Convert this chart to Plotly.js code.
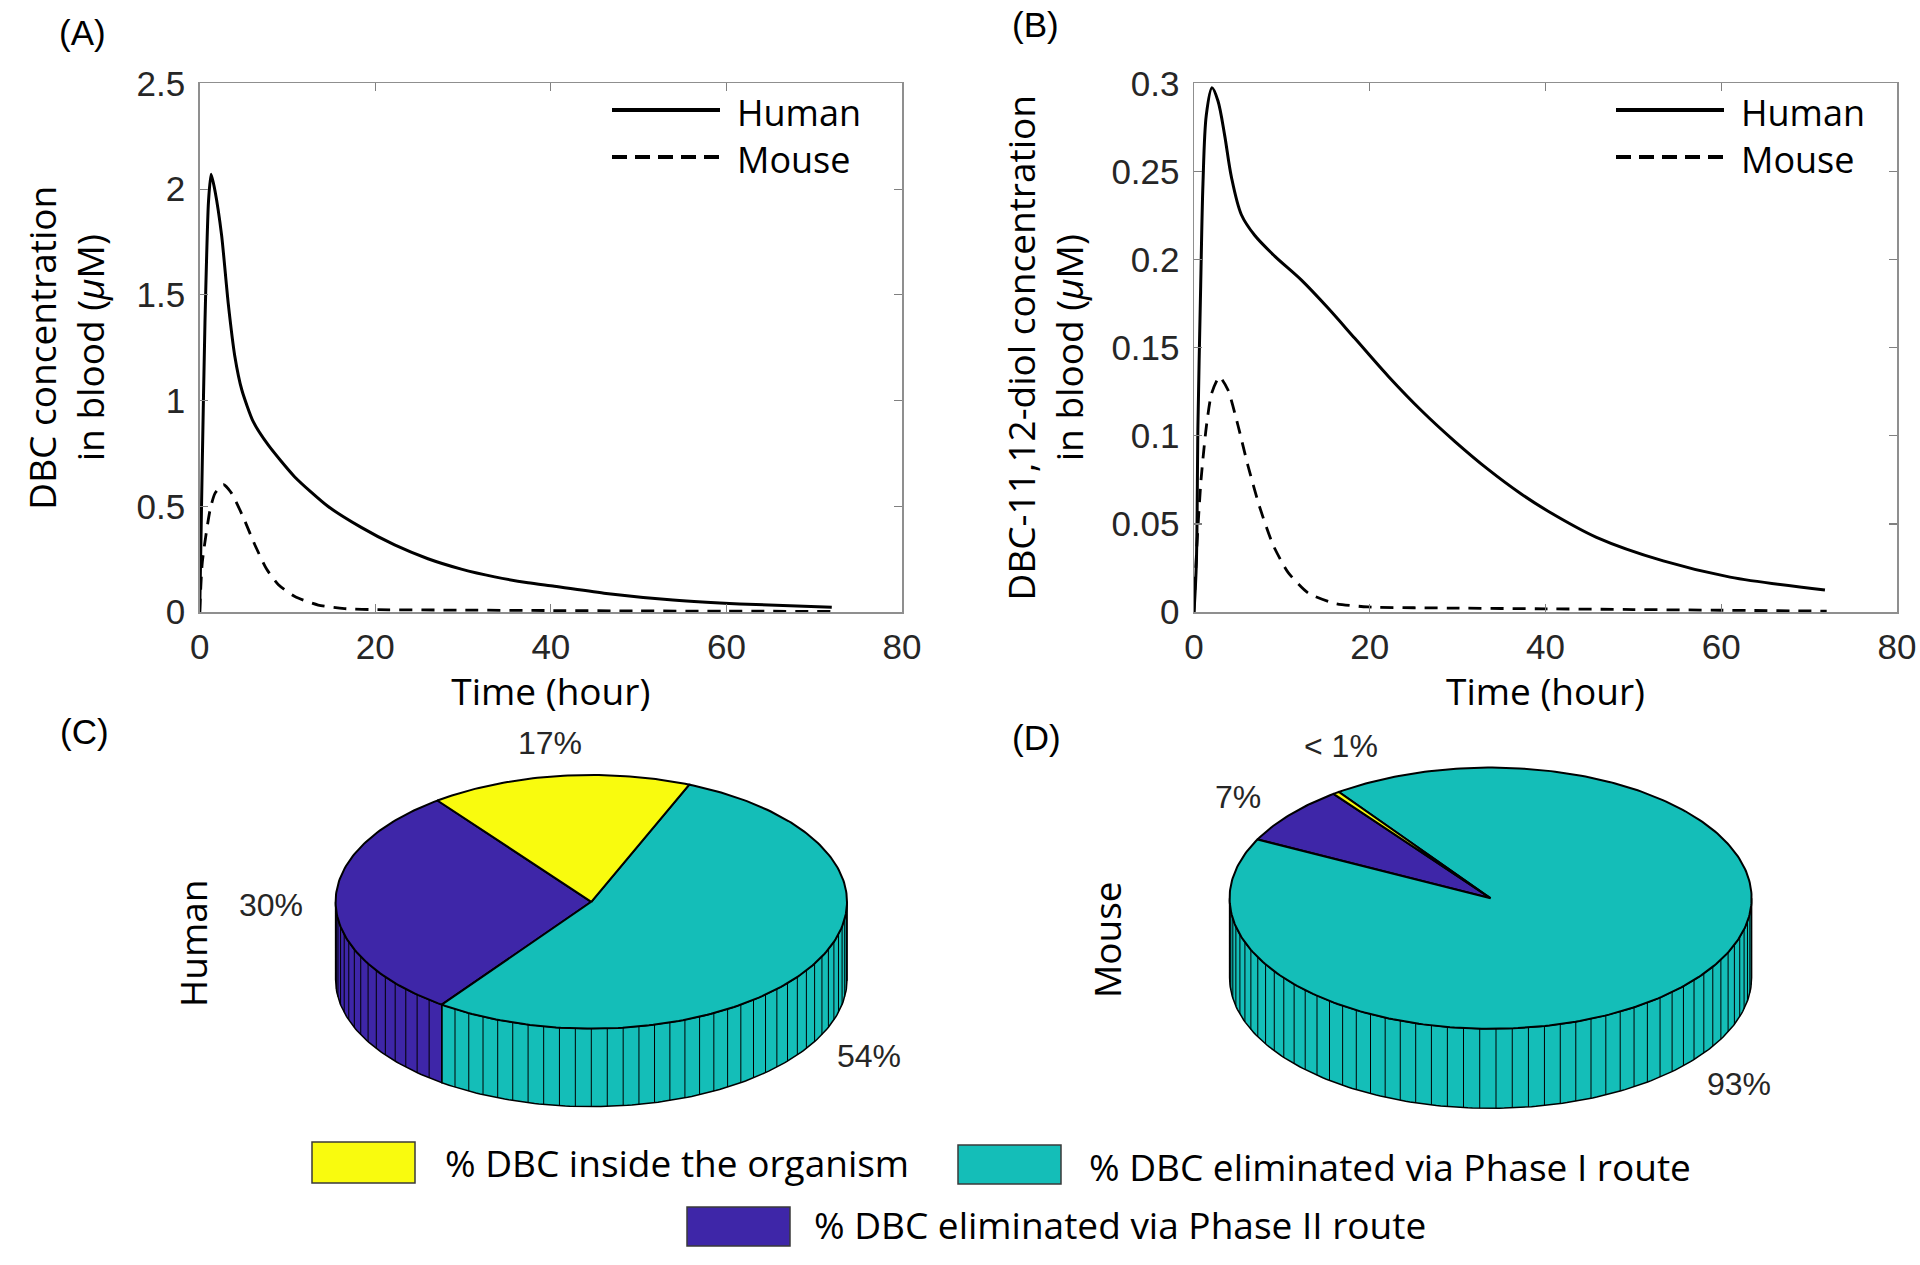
<!DOCTYPE html>
<html>
<head>
<meta charset="utf-8">
<script src="https://cdn.plot.ly/plotly-3.0.1.min.js"></script>
<style>
html,body{margin:0;padding:0;background:#ffffff;}
#chart{width:1920px;height:1265px;}
</style>
</head>
<body>
<div id="chart"></div>
<script>
// ---------------- DATA ----------------
const seriesNames = ['Human', 'Mouse'];
const xTicks = [0, 20, 40, 60, 80];
const yTicksA = [0, 0.5, 1, 1.5, 2, 2.5];
const yTicksB = [0, 0.05, 0.1, 0.15, 0.2, 0.25, 0.3];

// (A) DBC concentration in blood (µM)
const tA_human = [0, 0.3, 0.6, 1.0, 1.3, 1.75, 2.5, 3.25, 4.0, 4.8, 6.1, 7.8, 10.8, 14.6, 18.4, 22.2, 26.0, 29.8, 33.6, 37.4, 40.4, 46.3, 53.9, 61.5, 72];
const cA_human = [0, 0.72, 1.37, 1.94, 2.07, 1.99, 1.78, 1.46, 1.21, 1.05, 0.90, 0.79, 0.64, 0.50, 0.40, 0.317, 0.252, 0.203, 0.166, 0.138, 0.122, 0.088, 0.057, 0.038, 0.022];
const tA_mouse = [0, 0.3, 1.17, 1.74, 2.7, 3.64, 4.96, 6.29, 7.62, 8.94, 10.84, 13.5, 16.5, 20.3, 30, 40, 50, 60, 72];
const cA_mouse = [0, 0.236, 0.48, 0.561, 0.602, 0.561, 0.448, 0.317, 0.203, 0.13, 0.073, 0.033, 0.016, 0.011, 0.009, 0.007, 0.005, 0.004, 0.003];

// (B) DBC-11,12-diol concentration in blood (µM)
const tB_human = [0, 0.27, 0.45, 0.76, 1.02, 1.4, 2.05, 2.73, 3.49, 4.25, 5.38, 6.9, 9.18, 12.2, 15.2, 18.3, 22.1, 25.9, 29.7, 33.4, 37.2, 40.3, 45.8, 53.4, 61.0, 71.8];
const cB_human = [0, 0.028, 0.106, 0.185, 0.243, 0.282, 0.2975, 0.290, 0.2705, 0.247, 0.2256, 0.2138, 0.202, 0.1885, 0.1728, 0.1553, 0.1338, 0.1142, 0.0967, 0.0812, 0.0671, 0.0572, 0.0424, 0.0290, 0.0198, 0.0125];
const tB_mouse = [0, 0.3, 0.8, 1.4, 2.0, 2.9, 3.87, 5.0, 6.14, 7.47, 9.0, 10.7, 13.0, 16.0, 19.8, 30, 40, 50, 60, 72];
const cB_mouse = [0, 0.035, 0.075, 0.105, 0.124, 0.1334, 0.126, 0.106, 0.083, 0.0596, 0.038, 0.0225, 0.0107, 0.0049, 0.0029, 0.0022, 0.0018, 0.0014, 0.001, 0.0005];

// (C)/(D) fate of DBC (%)
const pieCategories = ['% DBC inside the organism', '% DBC eliminated via Phase I route', '% DBC eliminated via Phase II route'];
const humanShares = [16.6, 53.9, 29.9];
const mouseShares = [0.4, 92.3, 7.3];
const humanLabels = ['17%', '54%', '30%'];
const mouseLabels = ['< 1%', '93%', '7%'];
const pieRowTitles = ['Human', 'Mouse'];
const panelTags = ['(A)', '(B)', '(C)', '(D)'];

// ---------------- STYLE / LAYOUT HELPERS ----------------
const W = 1920, H = 1265;
const px = x => x / W;
const py = y => 1 - y / H;
const pieColors = ['#F9FB0E', '#14BEB8', '#3E26A8'];
const tickFont = {family: 'Liberation Sans, Arial, sans-serif', size: 35, color: '#262626'};
const titleFont = {family: 'Open Sans, sans-serif', size: 37, color: '#000000'};
const dashStyle = '13px,9px';

const traces = [];
function lineTrace(x, y, name, dashed, xa, ya, sm) {
  return {
    type: 'scatter', mode: 'lines', x: x, y: y, name: name,
    xaxis: xa, yaxis: ya, showlegend: false,
    line: {color: '#000000', width: dashed ? 2.8 : 3, dash: dashed ? dashStyle : 'solid', shape: 'spline', smoothing: sm}
  };
}
traces.push(lineTrace(tA_human, cA_human, seriesNames[0], false, 'x', 'y', 0.6));
traces.push(lineTrace(tA_mouse, cA_mouse, seriesNames[1], true, 'x', 'y', 0.6));
traces.push(lineTrace(tB_human, cB_human, seriesNames[0], false, 'x2', 'y2', 0.9));
traces.push(lineTrace(tB_mouse, cB_mouse, seriesNames[1], true, 'x2', 'y2', 0.6));

// ---------- pseudo-3D pies (MATLAB pie3 look) built from the shares ----------
function ePt(p, deg, dy) {
  const r = deg * Math.PI / 180;
  return [p.cx + p.rx * Math.cos(r), p.cy - p.ry * Math.sin(r) + (dy || 0)];
}
function addPie(shares, p) {
  const total = shares.reduce((a, b) => a + b, 0);
  const order = [2, 1, 0]; // Phase II, Phase I, inside – counter-clockwise
  let ang = p.start;
  const slices = order.map(i => {
    const span = 360 * shares[i] / total;
    const s = {i: i, a0: ang, a1: ang + span, frac: shares[i] / total};
    ang += span;
    return s;
  });
  const fx = [], fy = [];
  slices.forEach(s => {
    [[180, 360], [540, 720]].forEach(v => {
      const lo = Math.max(s.a0, v[0]), hi = Math.min(s.a1, v[1]);
      if (hi <= lo) return;
      const xs = [], ys = [];
      const n = Math.max(2, Math.ceil(hi - lo));
      for (let k = 0; k <= n; k++) { const q = ePt(p, lo + (hi - lo) * k / n, 0); xs.push(q[0]); ys.push(q[1]); }
      for (let k = n; k >= 0; k--) { const q = ePt(p, lo + (hi - lo) * k / n, p.h); xs.push(q[0]); ys.push(q[1]); }
      xs.push(xs[0]); ys.push(ys[0]);
      traces.push({type: 'scatter', mode: 'lines', x: xs, y: ys, xaxis: 'x3', yaxis: 'y3',
        fill: 'toself', fillcolor: pieColors[s.i], line: {color: '#000000', width: 1.5},
        hoverinfo: 'skip', showlegend: false});
    });
    const nf = Math.max(1, Math.ceil(100 * s.frac));
    for (let k = 0; k <= nf; k++) {
      const a = s.a0 + (s.a1 - s.a0) * k / nf;
      const am = ((a % 360) + 360) % 360;
      if (am > 180.5 && am < 359.5) {
        const q = ePt(p, a, 0);
        fx.push(q[0], q[0], null); fy.push(q[1], q[1] + p.h, null);
      }
    }
  });
  traces.push({type: 'scatter', mode: 'lines', x: fx, y: fy, xaxis: 'x3', yaxis: 'y3',
    line: {color: '#000000', width: 1}, hoverinfo: 'skip', showlegend: false});
  slices.forEach(s => {
    const xs = [p.cx], ys = [p.cy];
    const n = Math.max(2, Math.ceil(s.a1 - s.a0));
    for (let k = 0; k <= n; k++) { const q = ePt(p, s.a0 + (s.a1 - s.a0) * k / n, 0); xs.push(q[0]); ys.push(q[1]); }
    xs.push(p.cx); ys.push(p.cy);
    traces.push({type: 'scatter', mode: 'lines', x: xs, y: ys, xaxis: 'x3', yaxis: 'y3',
      fill: 'toself', fillcolor: pieColors[s.i], line: {color: '#000000', width: 2},
      name: pieCategories[s.i], hoverinfo: 'name', showlegend: false});
  });
}
addPie(humanShares, {cx: 591.3, cy: 901.8, rx: 255.7, ry: 126.8, h: 78, start: 127});
addPie(mouseShares, {cx: 1490.6, cy: 898.2, rx: 261, ry: 130.6, h: 79.5, start: 127});

// ---------------- AXES ----------------
const axisCommon = {
  showline: true, linecolor: '#8f8f8f', linewidth: 1.5, mirror: 'ticks',
  ticks: 'inside', ticklen: 8, tickwidth: 1.2, tickcolor: '#808080',
  showgrid: false, zeroline: false, tickfont: tickFont, automargin: false, fixedrange: true
};
const layout = {
  width: W, height: H,
  margin: {l: 0, r: 0, t: 0, b: 0},
  paper_bgcolor: '#ffffff', plot_bgcolor: 'rgba(0,0,0,0)',
  showlegend: false,
  xaxis: Object.assign({}, axisCommon, {domain: [px(199.7), px(902)], range: [0, 80], tickvals: xTicks, anchor: 'y',
    ticklabelstandoff: 3, title: {text: 'Time (hour)', font: titleFont, standoff: 10}}),
  yaxis: Object.assign({}, axisCommon, {domain: [py(612), py(83.4)], range: [0, 2.5], tickvals: yTicksA, anchor: 'x',
    ticklabelstandoff: 6, title: {text: 'DBC concentration<br>in blood (<i>μ</i>M)', font: titleFont, standoff: 20}}),
  xaxis2: Object.assign({}, axisCommon, {domain: [px(1194), px(1897)], range: [0, 80], tickvals: xTicks, anchor: 'y2',
    ticklabelstandoff: 3, title: {text: 'Time (hour)', font: titleFont, standoff: 10}}),
  yaxis2: Object.assign({}, axisCommon, {domain: [py(612), py(83.4)], range: [0, 0.3], tickvals: yTicksB, anchor: 'x2',
    ticklabelstandoff: 6, title: {text: 'DBC-11,12-diol concentration<br>in blood (<i>μ</i>M)', font: titleFont, standoff: 16}}),
  xaxis3: {domain: [0, 1], range: [0, W], visible: false, anchor: 'y3', fixedrange: true},
  yaxis3: {domain: [0, py(720)], range: [H, 720], visible: false, anchor: 'x3', fixedrange: true},
  shapes: [],
  annotations: []
};

// line legends (Human / Mouse) inside panels A and B
const legLineFont = {family: 'Open Sans, sans-serif', size: 36, color: '#000000'};
[[612, 736], [1616, 1740]].forEach(pos => {
  [[110, 112, false], [157, 160, true]].forEach((r, k) => {
    layout.shapes.push({type: 'line', xref: 'paper', yref: 'paper',
      x0: px(pos[0]), x1: px(pos[0] + 108), y0: py(r[0]), y1: py(r[0]),
      line: {color: '#000000', width: 4, dash: r[2] ? '15px,8px' : 'solid'}});
    layout.annotations.push({xref: 'paper', yref: 'paper', x: px(pos[1]), y: py(r[1]),
      xanchor: 'left', yanchor: 'middle', showarrow: false, borderpad: 0, text: seriesNames[k], font: legLineFont});
  });
});

// panel tags
[[82, 33], [1035, 25], [84, 731], [1036, 737]].forEach((p, k) => {
  layout.annotations.push({xref: 'paper', yref: 'paper', x: px(p[0]), y: py(p[1]), xanchor: 'center', yanchor: 'middle',
    showarrow: false, text: panelTags[k], font: {family: 'Liberation Sans, Arial, sans-serif', size: 35, color: '#000000'}});
});

// pie row titles
[[192, 944], [1106, 940]].forEach((p, k) => {
  layout.annotations.push({xref: 'paper', yref: 'paper', x: px(p[0]), y: py(p[1]), xanchor: 'center', yanchor: 'middle',
    textangle: -90, showarrow: false, text: pieRowTitles[k], font: titleFont});
});

// pie percentage labels (category order: inside, Phase I, Phase II)
const pieLabFont = {family: 'Liberation Sans, Arial, sans-serif', size: 32, color: '#262626'};
[[550, 743], [869, 1056], [271, 905]].forEach((p, k) => {
  layout.annotations.push({xref: 'paper', yref: 'paper', x: px(p[0]), y: py(p[1]), xanchor: 'center', yanchor: 'middle',
    showarrow: false, text: humanLabels[k], font: pieLabFont});
});
[[1341, 746], [1739, 1084], [1238, 797]].forEach((p, k) => {
  layout.annotations.push({xref: 'paper', yref: 'paper', x: px(p[0]), y: py(p[1]), xanchor: 'center', yanchor: 'middle',
    showarrow: false, text: mouseLabels[k], font: pieLabFont});
});

// pie legend (boxes + labels)
const legFont = {family: 'Open Sans, sans-serif', size: 37, color: '#000000'};
[[312, 415, 1142, 1183, 443, 1162], [958, 1061, 1145, 1184, 1087, 1166], [687, 790, 1207, 1246, 812, 1224]].forEach((b, k) => {
  layout.shapes.push({type: 'rect', xref: 'paper', yref: 'paper', x0: px(b[0]), x1: px(b[1]), y0: py(b[3]), y1: py(b[2]),
    fillcolor: pieColors[k], line: {color: '#3a3a3a', width: 1.5}});
  layout.annotations.push({xref: 'paper', yref: 'paper', x: px(b[4]), y: py(b[5]), xanchor: 'left', yanchor: 'middle',
    showarrow: false, text: pieCategories[k], font: legFont});
});

Plotly.newPlot('chart', traces, layout, {staticPlot: true, displayModeBar: false});
</script>
</body>
</html>
